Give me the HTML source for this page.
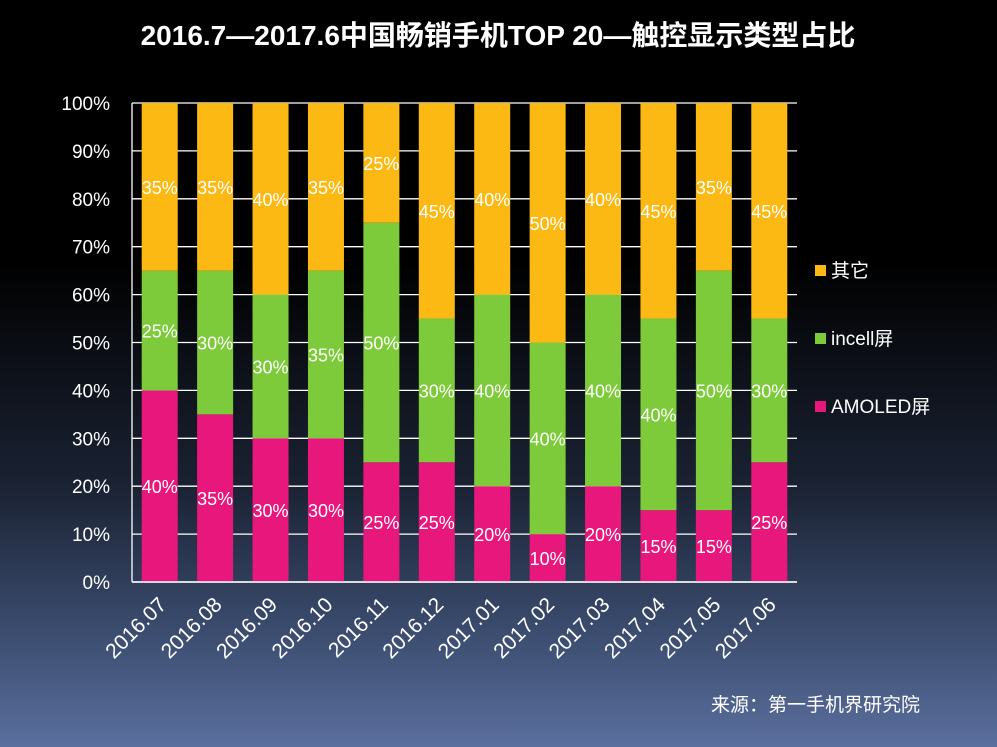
<!DOCTYPE html>
<html><head><meta charset="utf-8"><style>
body{margin:0;width:997px;height:747px;overflow:hidden;background:linear-gradient(to bottom,#000 0%,#000 35%,#1a2233 65%,#3c4d70 85%,#5b6f9e 100%);font-family:"Liberation Sans","Noto Sans CJK SC",sans-serif;}
</style></head><body>
<svg width="997" height="747" id="svg" style="position:absolute;left:0;top:0">
<text x="498" y="45" text-anchor="middle" fill="#fff" font-size="28" font-weight="bold" font-family="Liberation Sans, Noto Sans CJK SC, sans-serif">2016.7—2017.6中国畅销手机TOP 20—触控显示类型占比</text>
<text x="920" y="711" text-anchor="end" fill="#fff" font-size="19" font-family="Liberation Sans, Noto Sans CJK SC, sans-serif">来源：第一手机界研究院</text>
</svg>
<script>
const categories=["2016.07","2016.08","2016.09","2016.10","2016.11","2016.12","2017.01","2017.02","2017.03","2017.04","2017.05","2017.06"];
const amoled=[40,35,30,30,25,25,20,10,20,15,15,25];
const incell=[25,30,30,35,50,30,40,40,40,40,50,30];
const other=[35,35,40,35,25,45,40,50,40,45,35,45];
const yTicks=[0,10,20,30,40,50,60,70,80,90,100];
const seriesNames=["其它","incell屏","AMOLED屏"];
const svg=document.getElementById('svg');const NS='http://www.w3.org/2000/svg';
const L=132,R=797,T=103,B=582;
const y=v=>B-(B-T)*v/100;
const band=(R-L)/categories.length;
const xc=i=>L+band*(i+0.5);
function mk(t,a,p){const e=document.createElementNS(NS,t);for(const k in a)e.setAttribute(k,a[k]);(p||svg).appendChild(e);return e;}
yTicks.forEach(v=>{
 const g=mk('line',{x1:L,x2:R,y1:y(v),y2:y(v),stroke:'#fff','stroke-width':1.3});
 
 
 const t=mk('text',{x:L-22,y:y(v)+7,'text-anchor':'end',fill:'#fff','font-size':19});t.textContent=v+'%';
 
 
});
const ax=mk('line',{x1:L,x2:L,y1:T,y2:B,stroke:'#fff','stroke-width':1.3});


const colors=['#E8177C','#7DCB3A','#FDB913'];
categories.forEach((c,i)=>{
 const vals=[amoled[i],incell[i],other[i]];let base=0;
 vals.forEach((v,s)=>{
  const r=mk('rect',{x:xc(i)-18,width:36,y:y(base+v),height:y(base)-y(base+v),fill:colors[s]});
  
  
  const t=mk('text',{x:xc(i),y:y(base+v/2)+7,'text-anchor':'middle',fill:'#fff','font-size':18});t.textContent=v+'%';
  
  
  base+=v;
 });
 const t=mk('text',{x:xc(i)+8,y:B+24,'text-anchor':'end',fill:'#fff','font-size':21,transform:`rotate(-45 ${xc(i)+8} ${B+24})`});t.textContent=c;
 
 
});
const bx=mk('line',{x1:L,x2:R,y1:B,y2:B,stroke:'#fff','stroke-width':1.5});


seriesNames.forEach((n,k)=>{
 const yy=271+k*68;
 const r=mk('rect',{x:815,y:yy-6,width:11,height:11,fill:colors[2-k]});
 
 
 const t=mk('text',{x:831,y:yy+6,fill:'#fff','font-size':19});t.textContent=n;
 
 
});
</script>
</body></html>
